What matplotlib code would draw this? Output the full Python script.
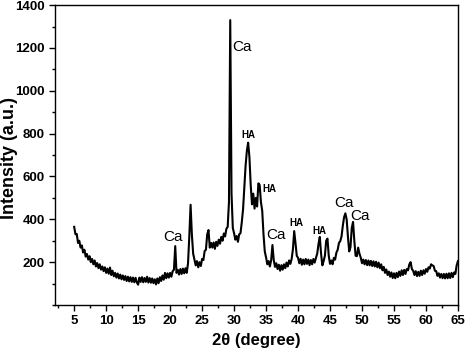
import numpy as np
import matplotlib
matplotlib.use('Agg')
import matplotlib.pyplot as plt
from matplotlib.ticker import MultipleLocator

plt.rcParams['font.family'] = ['Liberation Sans', 'DejaVu Sans']

# 2theta scan, 0.2 degree step from 5 to 65
two_theta = np.round(np.arange(5.0, 65.001, 0.2), 1)

# intensity, one row per degree (x.0, x.2, x.4, x.6, x.8)
intensity = [
    365, 330, 332, 290, 300,   # 5
    268, 278, 245, 258, 226,   # 6
    238, 212, 228, 200, 215,   # 7
    190, 208, 180, 196, 172,   # 8
    190, 165, 180, 158, 176,   # 9
    150, 170, 146, 175, 140,   # 10
    160, 134, 150, 128, 147,   # 11
    124, 142, 120, 138, 117,   # 12
    135, 112, 132, 110, 130,   # 13
    108, 128, 106, 127, 105,   # 14
    95, 128, 108, 130, 106,    # 15
    126, 108, 132, 105, 126,   # 16
    104, 124, 102, 120, 96,    # 17
    124, 102, 130, 112, 138,   # 18
    118, 150, 125, 148, 128,   # 19
    150, 132, 158, 165, 275,   # 20
    150, 164, 142, 168, 145,   # 21
    170, 148, 172, 150, 195,   # 22
    320, 468, 330, 240, 212,   # 23
    185, 205, 176, 200, 182,   # 24
    215, 210, 252, 258, 330,   # 25
    350, 268, 290, 268, 292,   # 26
    262, 295, 276, 305, 286,   # 27
    318, 300, 334, 320, 356,   # 28
    365, 480, 1330, 520, 360,  # 29
    335, 305, 322, 295, 330,   # 30
    335, 385, 445, 550, 650,   # 31
    720, 758, 690, 560, 470,   # 32
    520, 450, 500, 460, 568,   # 33
    560, 480, 440, 330, 250,   # 34
    222, 190, 205, 180, 210,   # 35
    280, 210, 178, 195, 168,   # 36
    188, 160, 186, 165, 190,   # 37
    172, 198, 180, 208, 192,   # 38
    215, 260, 345, 290, 230,   # 39
    220, 195, 216, 188, 212,   # 40
    190, 215, 192, 212, 186,   # 41
    210, 190, 215, 198, 220,   # 42
    240, 285, 318, 240, 185,   # 43
    205, 230, 300, 310, 230,   # 44
    192, 208, 190, 220, 212,   # 45
    245, 258, 290, 298, 320,   # 46
    370, 410, 428, 400, 320,   # 47
    250, 270, 360, 388, 300,   # 48
    230, 228, 268, 240, 222,   # 49
    195, 212, 190, 210, 186,   # 50
    208, 185, 206, 182, 204,   # 51
    180, 202, 176, 198, 172,   # 52
    190, 162, 178, 150, 166,   # 53
    140, 156, 132, 152, 126,   # 54
    148, 125, 150, 130, 156,   # 55
    136, 162, 140, 164, 145,   # 56
    168, 162, 190, 200, 168,   # 57
    160, 140, 158, 135, 155,   # 58
    136, 160, 140, 162, 146,   # 59
    168, 155, 176, 170, 190,   # 60
    185, 182, 160, 158, 136,   # 61
    148, 128, 145, 125, 145,   # 62
    124, 146, 125, 148, 126,   # 63
    150, 130, 152, 145, 185,   # 64
    205,                       # 65
]

# phase labels: text, 2theta, intensity, bold
labels = [
    ('Ca', 20.4, 319, False),
    ('Ca', 31.2, 1204, False),
    ('HA', 32.3, 793, True),
    ('HA', 35.5, 540, True),
    ('Ca', 36.6, 327, False),
    ('HA', 39.7, 381, True),
    ('HA', 43.3, 347, True),
    ('Ca', 47.2, 477, False),
    ('Ca', 49.7, 417, False),
]

fig = plt.figure(figsize=(4.68, 3.52), dpi=100)
ax = fig.add_axes([0.1175, 0.1335, 0.861, 0.852])

ax.plot(two_theta, intensity, color='black', lw=1.5)

for txt, x, y, bold in labels:
    if bold:
        ax.text(x, y, txt, ha='center', va='center', fontsize=7, fontweight='bold')
    else:
        ax.text(x, y, txt, ha='center', va='center', fontsize=11)

ax.set_xlim(2, 65)
ax.set_ylim(0, 1400)
ax.set_xticks(range(5, 66, 5))
ax.set_yticks(range(200, 1401, 200))
ax.xaxis.set_minor_locator(MultipleLocator(2.5))
ax.yaxis.set_minor_locator(MultipleLocator(100))
ax.tick_params(which='major', direction='out', length=4, width=1, labelsize=9.5)
ax.tick_params(which='minor', direction='out', length=2.5, width=1)
for lbl in ax.get_xticklabels() + ax.get_yticklabels():
    lbl.set_fontweight('bold')
for s in ax.spines.values():
    s.set_linewidth(1)

ax.set_xlabel('2θ (degree)', fontsize=12, fontweight='bold', va='center')
ax.set_ylabel('Intensity (a.u.)', fontsize=13, fontweight='bold', va='center')
ax.xaxis.set_label_coords(0.5, -0.118)
ax.yaxis.set_label_coords(-0.112, 0.49)

fig.savefig('out.png', dpi=100)
